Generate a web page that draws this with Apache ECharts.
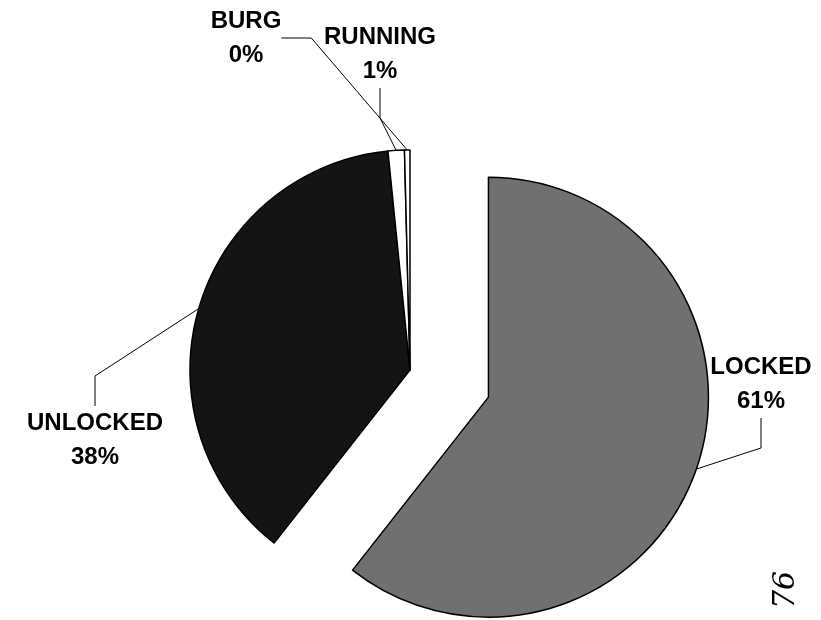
<!DOCTYPE html>
<html>
<head>
<meta charset="utf-8">
<style>
  html, body { margin: 0; padding: 0; background: #fff; }
  #main { width: 821px; height: 620px; }
</style>
<script src="https://cdn.jsdelivr.net/npm/echarts@6/dist/echarts.min.js"></script>
</head>
<body>
<div id="main"></div>
<script>
var names = ['LOCKED', 'UNLOCKED', 'RUNNING', 'BURG'];
var values = [60.6, 37.8, 1.2, 0.4];

var chartDom = document.getElementById('main');
var myChart = echarts.init(chartDom);
var option;

var sliceColors = ['#707070', '#141414', '#ffffff', '#ffffff'];
// where each label block sits (center)
var labelSpots = [[761, 384], [95, 440], [380, 54], [246, 38]];
var pieCenter = [410, 370];
var explode = 83; // how far the LOCKED slice is pulled out

// pull-out direction = middle angle of the first slice (clockwise from top)
var total = values.reduce(function (a, b) { return a + b; }, 0);
var midAngle = values[0] / total * Math.PI;
var explodedCenter = [
  pieCenter[0] + explode * Math.sin(midAngle),
  pieCenter[1] - explode * Math.cos(midAngle)
];

function makeData(showIdx) {
  return names.map(function (n, i) {
    var on = showIdx(i);
    return {
      name: n,
      value: values[i],
      itemStyle: on ? { color: sliceColors[i] } : { color: 'rgba(0,0,0,0)', borderWidth: 0 },
      label: { show: on },
      labelLine: { show: on }
    };
  });
}

function pieSeries(center, showIdx) {
  return {
    type: 'pie',
    center: center,
    radius: 220,
    startAngle: 90,
    clockwise: true,
    percentPrecision: 0,
    avoidLabelOverlap: false,
    silent: true,
    itemStyle: {
      borderColor: '#000',
      borderWidth: 1.5
    },
    label: {
      formatter: '{b}\n{d}%',
      fontFamily: 'Liberation Sans, Arial, sans-serif',
      fontWeight: 'bold',
      fontSize: 24,
      lineHeight: 34,
      color: '#000',
      align: 'center'
    },
    labelLine: {
      lineStyle: { color: '#000', width: 1 }
    },
    labelLayout: function (params) {
      var p = labelSpots[params.dataIndex];
      return { x: p[0], y: p[1], align: 'center', verticalAlign: 'middle' };
    },
    emphasis: { disabled: true },
    data: makeData(showIdx)
  };
}

option = {
  animation: false,
  backgroundColor: '#ffffff',
  series: [
    pieSeries(pieCenter, function (i) { return i !== 0; }),
    pieSeries(explodedCenter, function (i) { return i === 0; })
  ],
  graphic: [
    {
      type: 'text',
      x: 786,
      y: 590,
      rotation: Math.PI / 2,
      style: {
        text: '76',
        fontFamily: 'DejaVu Serif, serif',
        fontStyle: 'italic',
        fontSize: 30,
        fill: '#000',
        align: 'center',
        verticalAlign: 'middle'
      }
    }
  ]
};

option && myChart.setOption(option);
</script>
</body>
</html>
